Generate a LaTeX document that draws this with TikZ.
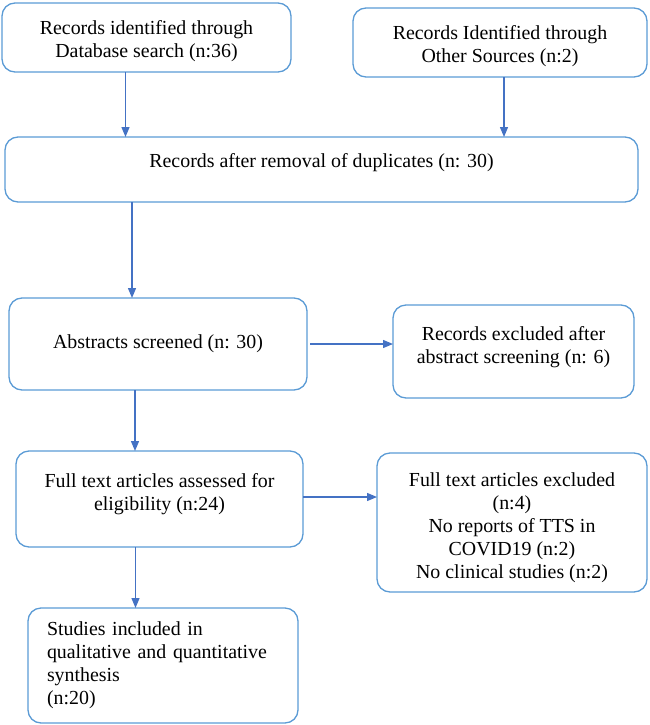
\documentclass[tikz,border=0pt]{standalone}
\usepackage{fontspec}
\setmainfont{Liberation Serif}
\usetikzlibrary{positioning,arrows.meta}
\definecolor{boxblue}{HTML}{5B9BD5}
\definecolor{arrowblue}{HTML}{4472C4}

\begin{document}
\begin{tikzpicture}[x=1pt,y=1pt,
  box/.style={draw=boxblue, line width=1.3pt, rounded corners=13pt, align=center,
    outer sep=0pt, inner sep=4pt, font=\fontsize{19.9}{23}\selectfont},
  arr/.style={draw=arrowblue, line width=1.3pt, -{Triangle[length=10pt,width=8pt]}}]
  \useasboundingbox (0,0) rectangle (649,-725);

  % Identification
  \node[box, minimum width=289pt, minimum height=69pt, anchor=north west] (db) at (2,-3)
    {\rule{0pt}{22pt}Records identified through\\Database search (n:36)};
  \node[box, minimum width=294pt, minimum height=69pt, below right=5pt and 62pt of db.north east] (other)
    {\rule{0pt}{22pt}Records Identified through\\Other Sources (n:2)};
  \node[box, minimum width=633pt, minimum height=65pt, text depth=18pt, below right=65pt and 3pt of db.south west] (dup)
    {Records after removal of duplicates (n: 30)};

  % Screening
  \node[box, minimum width=298pt, minimum height=92pt, below right=96pt and 4pt of dup.south west] (abs)
    {Abstracts screened (n: 30)};
  \node[box, minimum width=241pt, minimum height=93pt, text depth=13pt, below right=7pt and 86pt of abs.north east] (rexcl)
    {Records excluded after\\abstract screening (n: 6)};

  % Eligibility
  \node[box, minimum width=287pt, minimum height=96pt, text depth=15pt, below right=61pt and 7pt of abs.south west] (full)
    {Full text articles assessed for\\eligibility (n:24)};
  \node[box, minimum width=270pt, minimum height=139pt, below right=2pt and 74pt of full.north east] (fexcl)
    {\rule{0pt}{24pt}Full text articles excluded\\(n:4)\\No reports of TTS in\\COVID19 (n:2)\\No clinical studies (n:2)};

  % Included
  \node[box, minimum width=270pt, minimum height=115pt, align=left, text width=232pt, inner xsep=19pt,
    below right=61pt and 12pt of full.south west] (incl)
    {Studies included in\\qualitative and quantitative\\synthesis\\(n:20)};

  \draw[arr] ([xshift=-21pt]db.south) -- ([xshift=-21pt]db.south |- dup.north);
  \draw[arr] ([xshift=4pt]other.south) -- ([xshift=4pt]other.south |- dup.north);
  \draw[arr] ([xshift=-26pt]abs.north |- dup.south) -- ([xshift=-26pt]abs.north);
  \draw[arr] ([xshift=3pt]abs.east) -- (abs.east -| rexcl.west);
  \draw[arr] ([xshift=-23pt]abs.south) -- ([xshift=-23pt]abs.south |- full.north);
  \draw[arr] ([yshift=2pt]full.east) -- ([yshift=2pt]full.east -| fexcl.west);
  \draw[arr] ([xshift=-24pt]full.south) -- ([xshift=-24pt]full.south |- incl.north);
\end{tikzpicture}
\end{document}
